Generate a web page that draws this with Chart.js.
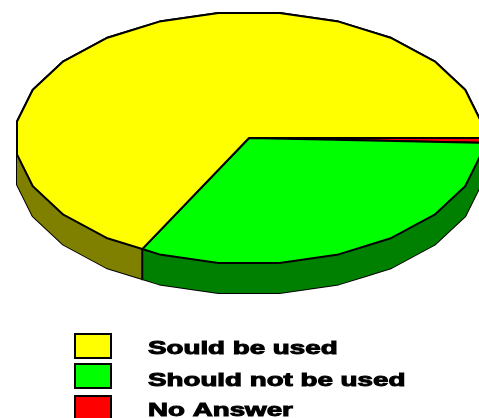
<!DOCTYPE html>
<html>
<head>
<meta charset="utf-8">
<style>
  html, body { margin: 0; padding: 0; background: #fff; overflow: hidden; }
  canvas { display: block; }
</style>
<script src="https://cdn.jsdelivr.net/npm/chart.js@4"></script>
</head>
<body>
<canvas id="pie" width="479" height="418"></canvas>
<script>
var categories = ['Sould be used', 'Should not be used', 'No Answer'];
var shares = [67.4, 32, 0.6];
var topColors = ['#ffff00', '#00ff00', '#ff0000'];
var wallColors = ['#808000', '#008000', '#800000'];

// where the flattened pie goes on the page
var centerX = 249, centerY = 138, radiusX = 234, radiusY = 126, depth = 30;
var facet = Math.PI / 12;

function tilt(ctx, arc, drop) {
    var sx = radiusX / arc.outerRadius, sy = radiusY / arc.outerRadius;
    ctx.setTransform(sx, 0, 0, sy, centerX - arc.x * sx, centerY + drop - arc.y * sy);
}

// radius of the faceted rim at a given angle, the facet middles sit on multiples of 15 degrees
function rimRadius(r, a) {
    var mid = Math.round(a / facet) * facet;
    return r * Math.cos(facet / 2) / Math.cos(a - mid);
}

// the old chart has a rim made of straight pieces and strokes in page pixels
function patchContext(ctx) {
    var stroke = CanvasRenderingContext2D.prototype.stroke;
    ctx.stroke = function () {
        ctx.save();
        ctx.setTransform(1, 0, 0, 1, 0, 0);
        stroke.call(ctx);
        ctx.restore();
    };
    ctx.arc = function (x, y, r, a0, a1) {
        var angles = [a0];
        var k = Math.ceil((a0 - facet / 2) / facet);
        while (k * facet + facet / 2 < a1) {
            if (k * facet + facet / 2 > a0) angles.push(k * facet + facet / 2);
            k++;
        }
        angles.push(a1);
        angles.forEach(function (a) {
            var rr = rimRadius(r, a);
            ctx.lineTo(x + Math.cos(a) * rr, y + Math.sin(a) * rr);
        });
    };
}

function unpatchContext(ctx) {
    delete ctx.stroke;
    delete ctx.arc;
}

var tiltPlugin = {
    id: 'tilt',
    beforeDatasetsDraw: function (chart) {
        var ctx = chart.ctx, arcs = chart.getDatasetMeta(0).data, walls = wallColors.slice().reverse();
        ctx.save();
        patchContext(ctx);
        // black silhouette of the whole wall
        for (var d = depth; d >= 0; d--) {
            tilt(ctx, arcs[0], d);
            arcs.forEach(function (arc) {
                var saved = arc.options, o = Object.create(saved);
                o.backgroundColor = 'transparent';
                o.borderColor = '#000';
                o.borderWidth = 2;
                arc.options = o;
                arc.draw(ctx);
                arc.options = saved;
            });
        }
        // wall colours on top of it
        for (var k = depth; k >= 0; k--) {
            tilt(ctx, arcs[0], k);
            arcs.forEach(function (arc, i) {
                var saved = arc.options, o = Object.create(saved);
                o.backgroundColor = walls[i];
                o.borderWidth = 0;
                arc.options = o;
                arc.draw(ctx);
                arc.options = saved;
            });
        }
        // upright edges where two slices meet on the wall
        ctx.setTransform(1, 0, 0, 1, 0, 0);
        ctx.strokeStyle = '#000';
        ctx.lineWidth = 2;
        arcs.forEach(function (arc) {
            var rim = rimRadius(1, arc.endAngle);
            var x = centerX + Math.cos(arc.endAngle) * radiusX * rim;
            var y = centerY + Math.sin(arc.endAngle) * radiusY * rim;
            if (Math.sin(arc.endAngle) > 0) {
                ctx.beginPath();
                ctx.moveTo(x, y);
                ctx.lineTo(x, y + depth);
                ctx.stroke();
            }
        });
        tilt(ctx, arcs[0], 0);
    },
    afterDatasetsDraw: function (chart) {
        unpatchContext(chart.ctx);
        chart.ctx.restore();
    }
};

var legendBoxX = 75, legendBoxTops = [334, 364, 396], legendBaselines = [354, 386, 416];

var legendPlugin = {
    id: 'stretchedLegend',
    afterDraw: function (chart) {
        var ctx = chart.ctx;
        ctx.save();
        categories.forEach(function (name, i) {
            ctx.lineWidth = 2;
            ctx.strokeStyle = '#000';
            ctx.fillStyle = topColors[i];
            ctx.fillRect(legendBoxX, legendBoxTops[i], 36, 24);
            ctx.strokeRect(legendBoxX, legendBoxTops[i], 36, 24);
            ctx.save();
            ctx.translate(148, legendBaselines[i]);
            ctx.scale(1.46, 1);
            ctx.fillStyle = '#000';
            ctx.font = 'bold 19px "Liberation Sans"';
            ctx.lineWidth = 1;
            ctx.fillText(name, 0, 0);
            ctx.strokeText(name, 0, 0);
            ctx.restore();
        });
        ctx.restore();
    }
};

new Chart(document.getElementById('pie').getContext('2d'), {
    type: 'pie',
    data: {
        labels: categories.slice().reverse(),
        datasets: [{
            data: shares.slice().reverse(),
            backgroundColor: topColors.slice().reverse(),
            borderColor: '#000',
            borderWidth: 2,
            clip: false
        }]
    },
    options: {
        responsive: false,
        animation: false,
        rotation: 90,
        plugins: { legend: { display: false }, tooltip: { enabled: false } }
    },
    plugins: [tiltPlugin, legendPlugin]
});
</script>
</body>
</html>
